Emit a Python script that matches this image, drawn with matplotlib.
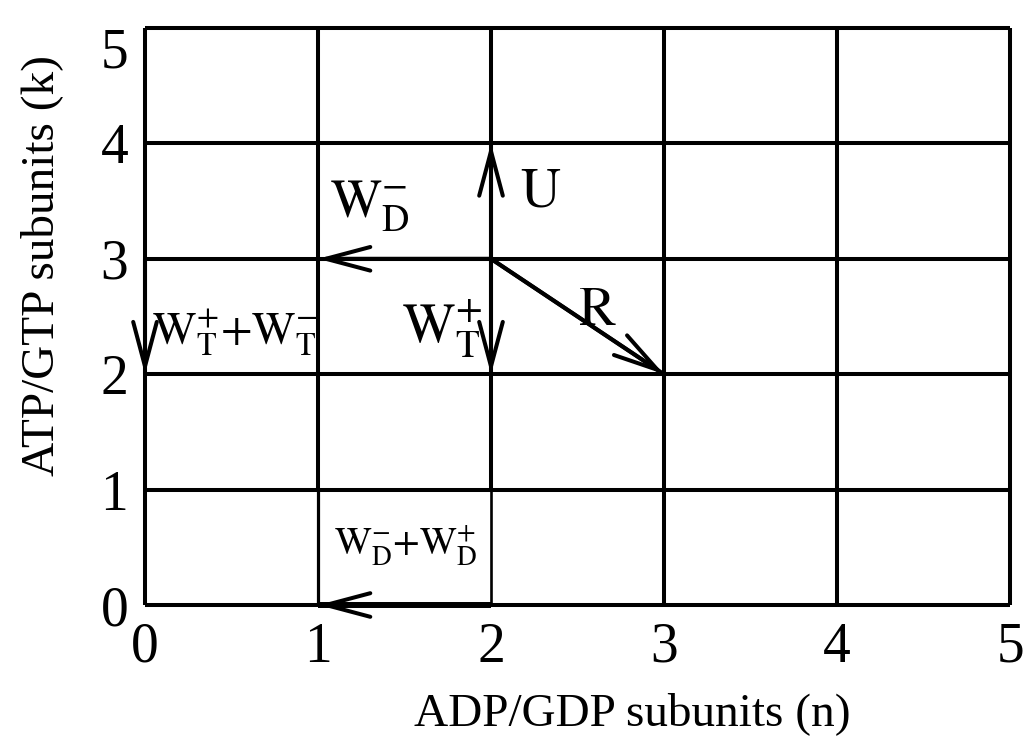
import matplotlib
matplotlib.use("Agg")
import matplotlib.pyplot as plt

plt.rcParams['font.family'] = ['Liberation Serif', 'DejaVu Serif']
plt.rcParams['mathtext.fontset'] = 'stix'

# lattice of states (n, k)
n_ticks = [0, 1, 2, 3, 4, 5]
k_ticks = [0, 1, 2, 3, 4, 5]

# transitions: (start, end)
arrow_starts = [(2, 3), (2, 3), (2, 3), (2, 3), (0, 3), (2, 0)]
arrow_ends = [(2, 4), (1, 3), (2, 2), (3, 2), (0, 2), (1, 0)]
shaft_widths = [2.9, 2.9, 2.9, 2.9, 2.9, 4.3]

# rate labels: text, x, y, alignment, size
labels = [r'$\mathrm{U}$', r'$\mathrm{W_D^{-}}$', r'$\mathrm{W_T^{+}}$', r'$\mathrm{R}$',
          r'$\mathrm{W_T^{+}{+}W_T^{-}}$', r'$\mathrm{W_D^{-}{+}W_D^{+}}$']
label_x = [2.17, 1.07, 1.95, 2.50, 0.04, 1.09]
label_y = [3.45, 3.36, 2.27, 2.43, 2.27, 0.43]
label_ha = ['left', 'left', 'right', 'left', 'left', 'left']
label_size = [40, 39, 40, 40, 33, 28]

fig = plt.figure(figsize=(10.25, 7.4), dpi=100)
ax = fig.add_axes([145 / 1025, 1 - 605 / 740, 865 / 1025, 577 / 740])

lw = 2.9
for k in k_ticks:
    ax.hlines(k, 0, 5, color='black', lw=lw, clip_on=False)
for n in n_ticks:
    ax.vlines(n, 1, 5, color='black', lw=lw, clip_on=False)
    bottom_lw = {1: 2.3, 2: 1.9}.get(n, lw)
    ax.vlines(n, 0, 1, color='black', lw=bottom_lw, clip_on=False)

for (x0, y0), (x1, y1), w in zip(arrow_starts, arrow_ends, shaft_widths):
    ax.plot([x0, x1], [y0, y1], color='black', lw=w, clip_on=False,
            solid_capstyle='butt')
    ax.annotate('', xy=(x1, y1), xytext=(x0, y0),
                arrowprops=dict(arrowstyle='->,head_length=3.2,head_width=0.85',
                                mutation_scale=10, lw=lw, color='black',
                                shrinkA=0, shrinkB=0),
                annotation_clip=False)

for t, x, y, ha, s in zip(labels, label_x, label_y, label_ha, label_size):
    ax.text(x, y, t, ha=ha, va='baseline', fontsize=s, color='black')

ax.set_xlim(0, 5)
ax.set_ylim(0, 5)
ax.set_xticks(n_ticks)
ax.set_yticks(k_ticks)
ax.tick_params(length=0, labelsize=40)
ax.tick_params(axis='x', pad=12)
ax.tick_params(axis='y', pad=12)
ax.get_yticklabels()[-1].set_verticalalignment('top')
for sp in ax.spines.values():
    sp.set_visible(False)

fig.text(632 / 1025, 1 - 725 / 740, 'ADP/GDP subunits (n)', fontsize=34,
         ha='center', va='baseline')
fig.text(53 / 1025, 1 - 265 / 740, 'ATP/GTP subunits (k)', fontsize=34,
         rotation=90, ha='center', va='baseline', rotation_mode='anchor')

fig.savefig('out.png', dpi=100)
